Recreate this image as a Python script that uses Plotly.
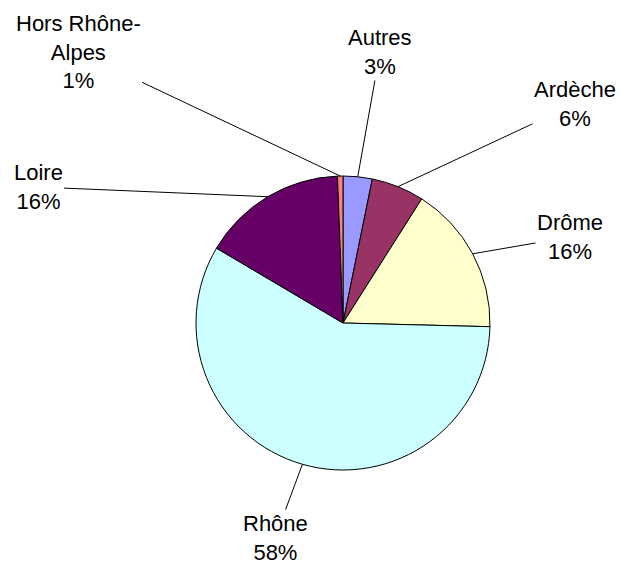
import math
import plotly.graph_objects as go

# data (clockwise from 12 o'clock)
departements = ['Autres', 'Ardèche', 'Drôme', 'Rhône', 'Loire', 'Hors Rhône-<br>Alpes']
parts = [3.2, 5.8, 16.4, 58.1, 15.9, 0.6]
couleurs = ['#9999FF', '#993366', '#FFFFCC', '#CCFFFF', '#660066', '#FF8080']

# figure geometry (pixels)
W, H = 620, 564
cx, cy, R = 343, 323, 147
# label centres, screen pixels
label_pos = [(380, 52), (575, 104), (570, 237), (275, 538), (38, 187), (78, 52)]

fig = go.Figure()
fig.add_trace(go.Pie(
    labels=departements, values=parts, sort=False, direction='clockwise', rotation=0,
    marker=dict(colors=couleurs, line=dict(color='black', width=1)),
    textinfo='none', hoverinfo='skip', showlegend=False,
    domain=dict(x=[(cx - R) / W, (cx + R) / W], y=[(H - cy - R) / H, (H - cy + R) / H]),
))

# labels with leader lines from the middle of each slice edge
total = sum(parts)
cum = 0
for lab, val, (lx, ly) in zip(departements, parts, label_pos):
    mid = (cum + val / 2) / total
    cum += val
    theta = 2 * math.pi * mid
    px = cx + R * math.sin(theta)
    py = cy - R * math.cos(theta)
    pct = round(100 * val / total)
    fig.add_annotation(
        x=px / W, y=1 - py / H, xref='paper', yref='paper',
        ax=lx - px, ay=ly - py, axref='pixel', ayref='pixel',
        text=f'{lab}<br>{pct}%', showarrow=True, arrowhead=0, arrowwidth=1,
        arrowcolor='black', standoff=0, align='center',
        font=dict(family='Liberation Sans, Arial', size=22, color='black'),
    )

fig.update_layout(width=W, height=H, margin=dict(l=0, r=0, t=0, b=0),
                  paper_bgcolor='white', plot_bgcolor='white')

# page body has a default 8px margin, drop it so the figure fills the window
fig.write_html('out.html', config={'displayModeBar': False},
               post_script="document.body.style.margin='0';")
